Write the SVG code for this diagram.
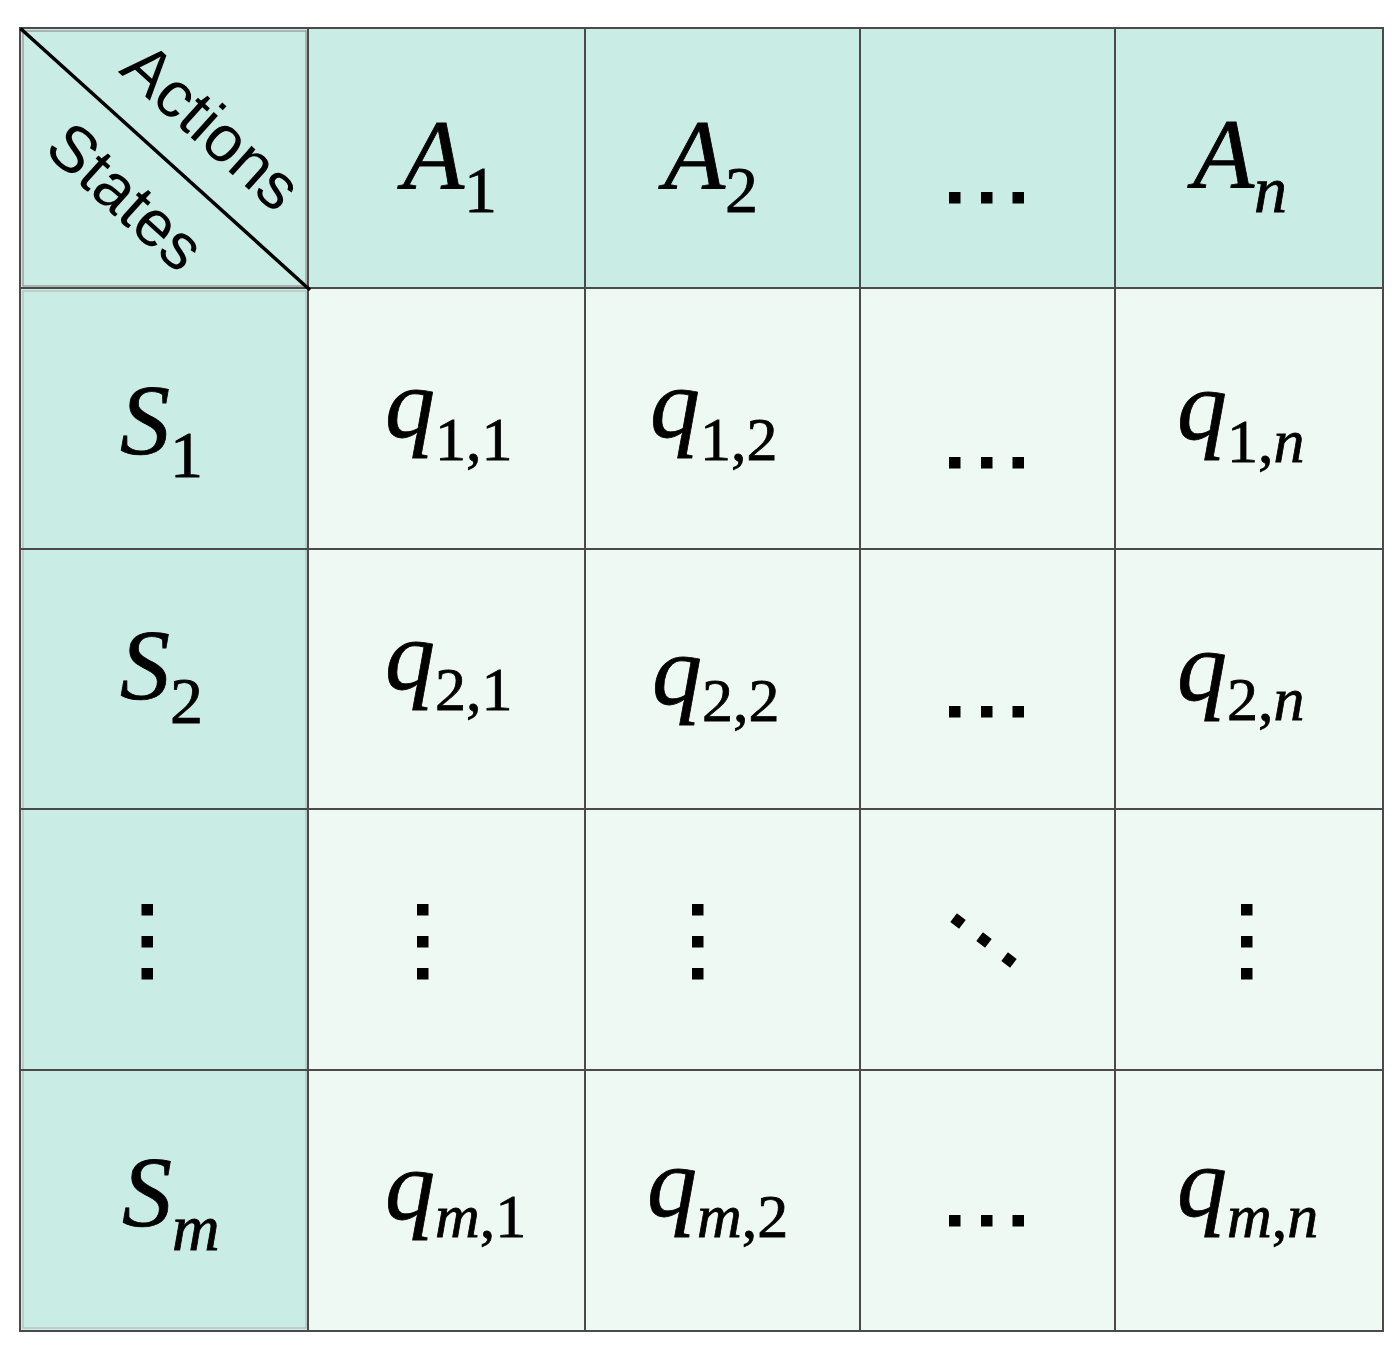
<svg xmlns="http://www.w3.org/2000/svg" width="1400" height="1353" viewBox="0 0 1400 1353">
<style>
.hd{fill:#c9ede5}
.bd{fill:#eff9f3}
.ln{stroke:#4a4a4a;stroke-width:2;fill:none}
.m{font-family:"Liberation Serif","Times New Roman",serif;font-size:100px;fill:#000;stroke:#000;stroke-width:0.8}
.it{font-style:italic}
.sub{font-size:62px}
.sa{font-size:66px}
.lab{font-family:"Liberation Sans",Arial,sans-serif;font-size:65px;fill:#000}
.d{fill:#000}
</style>
<rect width="1400" height="1353" fill="#ffffff"/>
<g id="cells">
<rect class="hd" x="20" y="28" width="1363" height="260"/>
<rect class="hd" x="20" y="288" width="288" height="1043"/>
<rect class="bd" x="308" y="288" width="1075" height="1043"/>
<rect x="23" y="31" width="283" height="255" fill="none" stroke="#a0a0a0" stroke-width="1.5"/>
<rect x="23" y="291" width="283" height="1037" fill="none" stroke="#b0b0b0" stroke-width="1"/>
</g>
<g id="grid">
<rect class="ln" x="20" y="28" width="1363" height="1303"/>
<line class="ln" x1="308" y1="28" x2="308" y2="1331"/>
<line class="ln" x1="585" y1="28" x2="585" y2="1331"/>
<line class="ln" x1="860" y1="28" x2="860" y2="1331"/>
<line class="ln" x1="1115" y1="28" x2="1115" y2="1331"/>
<line class="ln" x1="20" y1="288" x2="1383" y2="288"/>
<line class="ln" x1="20" y1="549" x2="1383" y2="549"/>
<line class="ln" x1="20" y1="809" x2="1383" y2="809"/>
<line class="ln" x1="20" y1="1070" x2="1383" y2="1070"/>
</g>
<g id="corner">
<line x1="20.5" y1="28.5" x2="310" y2="290" stroke="#000" stroke-width="3.5"/>
<text class="lab" text-anchor="middle" transform="translate(197,143) rotate(42)">Actions</text>
<text class="lab" text-anchor="middle" transform="translate(111,213) rotate(42)">States</text>
</g>
<g id="header">
<text class="m" x="403" y="189"><tspan class="it">A</tspan><tspan class="sa" dy="23">1</tspan></text>
<text class="m" x="664" y="189"><tspan class="it">A</tspan><tspan class="sa" dy="23">2</tspan></text>
<g class="d"><rect x="949" y="192" width="11.5" height="11.5"/><rect x="981" y="192" width="11.5" height="11.5"/><rect x="1012.5" y="192" width="11.5" height="11.5"/></g>
<text class="m" x="1193" y="188"><tspan class="it">A</tspan><tspan class="sa it" dy="24">n</tspan></text>
</g>
<g id="row1">
<text class="m" x="120" y="453"><tspan class="it">S</tspan><tspan class="sa" dy="24">1</tspan></text>
<text class="m" x="385" y="437"><tspan class="it">q</tspan><tspan class="sub" dy="23">1,1</tspan></text>
<text class="m" x="650" y="437"><tspan class="it">q</tspan><tspan class="sub" dy="23">1,2</tspan></text>
<g class="d"><rect x="949" y="457" width="11.5" height="11.5"/><rect x="981" y="457" width="11.5" height="11.5"/><rect x="1012.5" y="457" width="11.5" height="11.5"/></g>
<text class="m" x="1177" y="439"><tspan class="it">q</tspan><tspan class="sub" dy="23">1,<tspan class="it">n</tspan></tspan></text>
</g>
<g id="row2">
<text class="m" x="120" y="698"><tspan class="it">S</tspan><tspan class="sa" dy="25">2</tspan></text>
<text class="m" x="385" y="689"><tspan class="it">q</tspan><tspan class="sub" dy="21">2,1</tspan></text>
<text class="m" x="652" y="704"><tspan class="it">q</tspan><tspan class="sub" dy="17">2,2</tspan></text>
<g class="d"><rect x="949" y="706" width="11.5" height="11.5"/><rect x="981" y="706" width="11.5" height="11.5"/><rect x="1012.5" y="706" width="11.5" height="11.5"/></g>
<text class="m" x="1177" y="700"><tspan class="it">q</tspan><tspan class="sub" dy="20">2,<tspan class="it">n</tspan></tspan></text>
</g>
<g id="row3">
<g class="d">
<rect x="141.5" y="904" width="11.5" height="11.5"/><rect x="141.5" y="936" width="11.5" height="11.5"/><rect x="141.5" y="968" width="11.5" height="11.5"/>
<rect x="417" y="904" width="11.5" height="11.5"/><rect x="417" y="936" width="11.5" height="11.5"/><rect x="417" y="968" width="11.5" height="11.5"/>
<rect x="692" y="904" width="11.5" height="11.5"/><rect x="692" y="936" width="11.5" height="11.5"/><rect x="692" y="968" width="11.5" height="11.5"/>
<rect x="1241" y="904" width="11.5" height="11.5"/><rect x="1241" y="936" width="11.5" height="11.5"/><rect x="1241" y="968" width="11.5" height="11.5"/>
<rect x="-5.5" y="-5.5" width="11" height="11" transform="translate(958,921) rotate(37)"/>
<rect x="-5.5" y="-5.5" width="11" height="11" transform="translate(984,940) rotate(37)"/>
<rect x="-5.5" y="-5.5" width="11" height="11" transform="translate(1009,960) rotate(37)"/>
</g>
</g>
<g id="rowm">
<text class="m" x="122" y="1225"><tspan class="it">S</tspan><tspan class="sa it" dy="25">m</tspan></text>
<text class="m" x="385" y="1219"><tspan class="it">q</tspan><tspan class="sub" dy="18"><tspan class="it">m</tspan>,1</tspan></text>
<text class="m" x="647" y="1216"><tspan class="it">q</tspan><tspan class="sub" dy="21"><tspan class="it">m</tspan>,2</tspan></text>
<g class="d"><rect x="949" y="1215" width="11.5" height="11.5"/><rect x="981" y="1215" width="11.5" height="11.5"/><rect x="1012.5" y="1215" width="11.5" height="11.5"/></g>
<text class="m" x="1177" y="1216"><tspan class="it">q</tspan><tspan class="sub" dy="21"><tspan class="it">m</tspan>,<tspan class="it">n</tspan></tspan></text>
</g>
</svg>
